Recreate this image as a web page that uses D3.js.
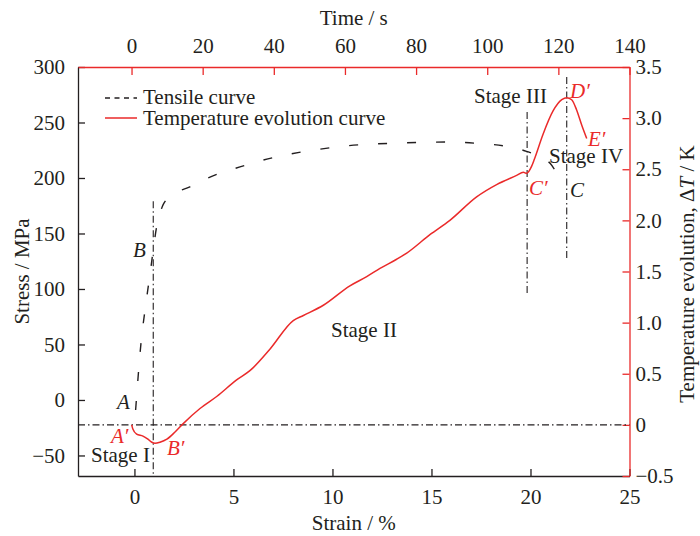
<!DOCTYPE html>
<html lang="en">
<head>
<meta charset="UTF-8">
<title>tensile and temperature</title>
<script src="https://cdn.jsdelivr.net/npm/d3@7"></script>
<style>
    body{ margin:0; background:#fff; }
    svg text{ font-family:"Liberation Serif","Times New Roman",serif; font-size:21px; fill:#231f20; }
    .red{ fill:#ea2a2a; }
</style>
</head>
<body>
<svg id="fig" width="700" height="536"></svg>
<script>
    // tensile curve: strain (%) vs stress (MPa)
    let tensile_strain = [0.06, 0.33, 0.58, 0.83, 1.0, 1.12, 1.29, 1.45, 1.94, 2.8, 3.71, 5.33, 7.15, 9.0,
        10.73, 13.4, 15.93, 17.45, 18.96, 19.8, 20.5, 21.0, 21.4, 21.66]
    let tensile_stress = [-9, 51, 87, 119, 142, 156, 168, 176, 185, 192, 200, 210, 219, 225,
        229, 231.5, 232.4, 231, 228, 224, 219, 213, 203, 198]

    // temperature evolution: strain (%) vs delta T (K)
    let temp_strain = [-0.14, -0.08, 0.11, 0.43, 0.68, 0.88, 1.04, 1.29, 1.64, 2.05, 2.45, 3.31, 4.17, 5.16,
        5.83, 6.84, 8.02, 8.53, 9.54, 10.88, 11.73, 12.4, 13.24, 13.75, 14.92, 15.93, 17.28, 18.29,
        19.3, 19.64, 19.81, 20.06, 20.2, 20.63, 21.14, 21.58, 21.83, 22.08, 22.33, 22.59, 22.84]
    let temp_dT = [0.0, -0.04, -0.09, -0.11, -0.14, -0.17, -0.18, -0.17, -0.14, -0.07, 0.01, 0.16, 0.28, 0.44,
        0.53, 0.74, 1.02, 1.07, 1.17, 1.36, 1.45, 1.53, 1.62, 1.68, 1.86, 2.0, 2.23, 2.35,
        2.44, 2.47, 2.46, 2.53, 2.6, 2.84, 3.07, 3.18, 3.2, 3.18, 3.08, 2.93, 2.80]

    // stage boundaries (strain, stress from / to)
    let stage_strain = [0.95, 19.83, 21.83]
    let stage_top = [179, 259.5, 291]
    let stage_bottom = [-68.5, 94.6, 126]

    let strain_ticks = [0, 5, 10, 15, 20, 25]
    let stress_ticks = [-50, 0, 50, 100, 150, 200, 250, 300]
    let time_ticks = [0, 20, 40, 60, 80, 100, 120, 140]
    let dT_ticks = [-0.5, 0, 0.5, 1.0, 1.5, 2.0, 2.5, 3.0, 3.5]

    let red = "#ea2a2a"
    let margin = {left: 78, right: 70.5, top: 67, bottom: 60}
    let svg = d3.select("#fig")
    let W = 700, H = 536

    let x = d3.scaleLinear().domain([-2.85, 25]).range([margin.left, W - margin.right])
    let xTime = d3.scaleLinear().domain([-15.05, 140]).range([margin.left, W - margin.right])
    let y = d3.scaleLinear().domain([-68.5, 300]).range([H - margin.bottom, margin.top])
    let yT = d3.scaleLinear().domain([-0.5, 3.5]).range([H - margin.bottom, margin.top])

    let fmt = function (d) { return d < 0 ? "\u2212" + Math.abs(d) : (d === 0 ? "0" : d3.format(".1f")(d)) }

    // axes (ticks point inward)
    let gBottom = svg.append("g").attr("transform", "translate(0," + (H - margin.bottom) + ")")
        .call(d3.axisBottom(x).tickValues(strain_ticks).tickSizeInner(-7).tickSizeOuter(0).tickPadding(13))
    let gLeft = svg.append("g").attr("transform", "translate(" + margin.left + ",0)")
        .call(d3.axisLeft(y).tickValues(stress_ticks).tickSizeInner(-7).tickSizeOuter(0).tickPadding(13)
            .tickFormat(function (d) { return d < 0 ? "\u2212" + Math.abs(d) : d }))
    let gTop = svg.append("g").attr("transform", "translate(0," + margin.top + ")")
        .call(d3.axisTop(xTime).tickValues(time_ticks).tickSizeInner(-8).tickSizeOuter(0).tickPadding(14))
    let gRight = svg.append("g").attr("transform", "translate(" + (W - margin.right) + ",0)")
        .call(d3.axisRight(yT).tickValues(dT_ticks).tickSizeInner(-7).tickSizeOuter(0).tickPadding(6)
            .tickFormat(fmt))

    for (let g of [gBottom, gLeft, gTop, gRight]) {
        g.selectAll("text").attr("font-size", null).attr("font-family", null).attr("fill", null)
        g.attr("font-size", null).attr("font-family", null)
    }
    gBottom.selectAll("path, line").attr("stroke", "#231f20").attr("stroke-width", 1.3)
    gLeft.selectAll("path, line").attr("stroke", "#231f20").attr("stroke-width", 1.3)
    gTop.selectAll("path, line").attr("stroke", red).attr("stroke-width", 1.3)
    gRight.selectAll("path, line").attr("stroke", red).attr("stroke-width", 1.3)

    // axis titles
    svg.append("text").attr("x", (margin.left + W - margin.right) / 2).attr("y", 530)
        .attr("text-anchor", "middle").text("Strain / %")
    svg.append("text").attr("x", (margin.left + W - margin.right) / 2).attr("y", 25)
        .attr("text-anchor", "middle").text("Time / s")
    svg.append("text").attr("transform", "translate(29," + ((margin.top + H - margin.bottom) / 2) + ") rotate(-90)")
        .attr("text-anchor", "middle").text("Stress / MPa")
    let rt = svg.append("text").attr("transform", "translate(694,274) rotate(-90)")
        .attr("text-anchor", "middle")
    rt.append("tspan").text("Temperature evolution, \u0394")
    rt.append("tspan").attr("font-style", "italic").text("T")
    rt.append("tspan").text(" / K")

    // dash-dot reference lines
    let dashDot = "7,3,1.5,3"
    svg.append("line")
        .attr("x1", margin.left).attr("x2", W - margin.right)
        .attr("y1", yT(0)).attr("y2", yT(0))
        .attr("stroke", "#231f20").attr("stroke-width", 1.1).attr("stroke-dasharray", dashDot)
    svg.selectAll(".stage")
        .data(stage_strain)
        .enter()
        .append("line")
        .attr("class", "stage")
        .attr("x1", function (d) { return x(d) }).attr("x2", function (d) { return x(d) })
        .attr("y1", function (d, i) { return y(stage_top[i]) })
        .attr("y2", function (d, i) { return y(stage_bottom[i]) })
        .attr("stroke", "#231f20").attr("stroke-width", 1.1).attr("stroke-dasharray", dashDot)

    // curves
    let tensile = d3.zip(tensile_strain, tensile_stress)
    let temp = d3.zip(temp_strain, temp_dT)

    svg.append("path")
        .datum(tensile)
        .attr("fill", "none")
        .attr("stroke", "#231f20")
        .attr("stroke-width", 1.4)
        .attr("stroke-dasharray", "9,20")
        .attr("d", d3.line().x(function (d) { return x(d[0]) }).y(function (d) { return y(d[1]) })
            .curve(d3.curveMonotoneX))

    svg.append("path")
        .datum(temp)
        .attr("fill", "none")
        .attr("stroke", red)
        .attr("stroke-width", 1.5)
        .attr("d", d3.line().x(function (d) { return x(d[0]) }).y(function (d) { return yT(d[1]) })
            .curve(d3.curveMonotoneX))

    // legend
    svg.append("line").attr("x1", 105).attr("x2", 137).attr("y1", 98).attr("y2", 98)
        .attr("stroke", "#231f20").attr("stroke-width", 1.3).attr("stroke-dasharray", "5,4.5")
    svg.append("text").attr("x", 143).attr("y", 104).text("Tensile curve")
    svg.append("line").attr("x1", 105).attr("x2", 137).attr("y1", 118).attr("y2", 118)
        .attr("stroke", red).attr("stroke-width", 1.5)
    svg.append("text").attr("x", 143).attr("y", 125).text("Temperature evolution curve")

    // annotations
    function label(px, py, txt, italic, isRed) {
        svg.append("text").attr("x", px).attr("y", py)
            .attr("class", isRed ? "red" : null)
            .attr("font-style", italic ? "italic" : null)
            .text(txt)
    }
    label(117, 409, "A", true, false)
    label(133, 257, "B", true, false)
    label(111, 443, "A\u2032", true, true)
    label(167, 455, "B\u2032", true, true)
    label(91, 462, "Stage I", false, false)
    label(331, 337, "Stage II", false, false)
    label(474, 103, "Stage III", false, false)
    label(549, 163, "Stage IV", false, false)
    label(529, 195, "C\u2032", true, true)
    label(570, 197, "C", true, false)
    label(570, 98, "D\u2032", true, true)
    label(588, 146, "E\u2032", true, true)
</script>
</body>
</html>
